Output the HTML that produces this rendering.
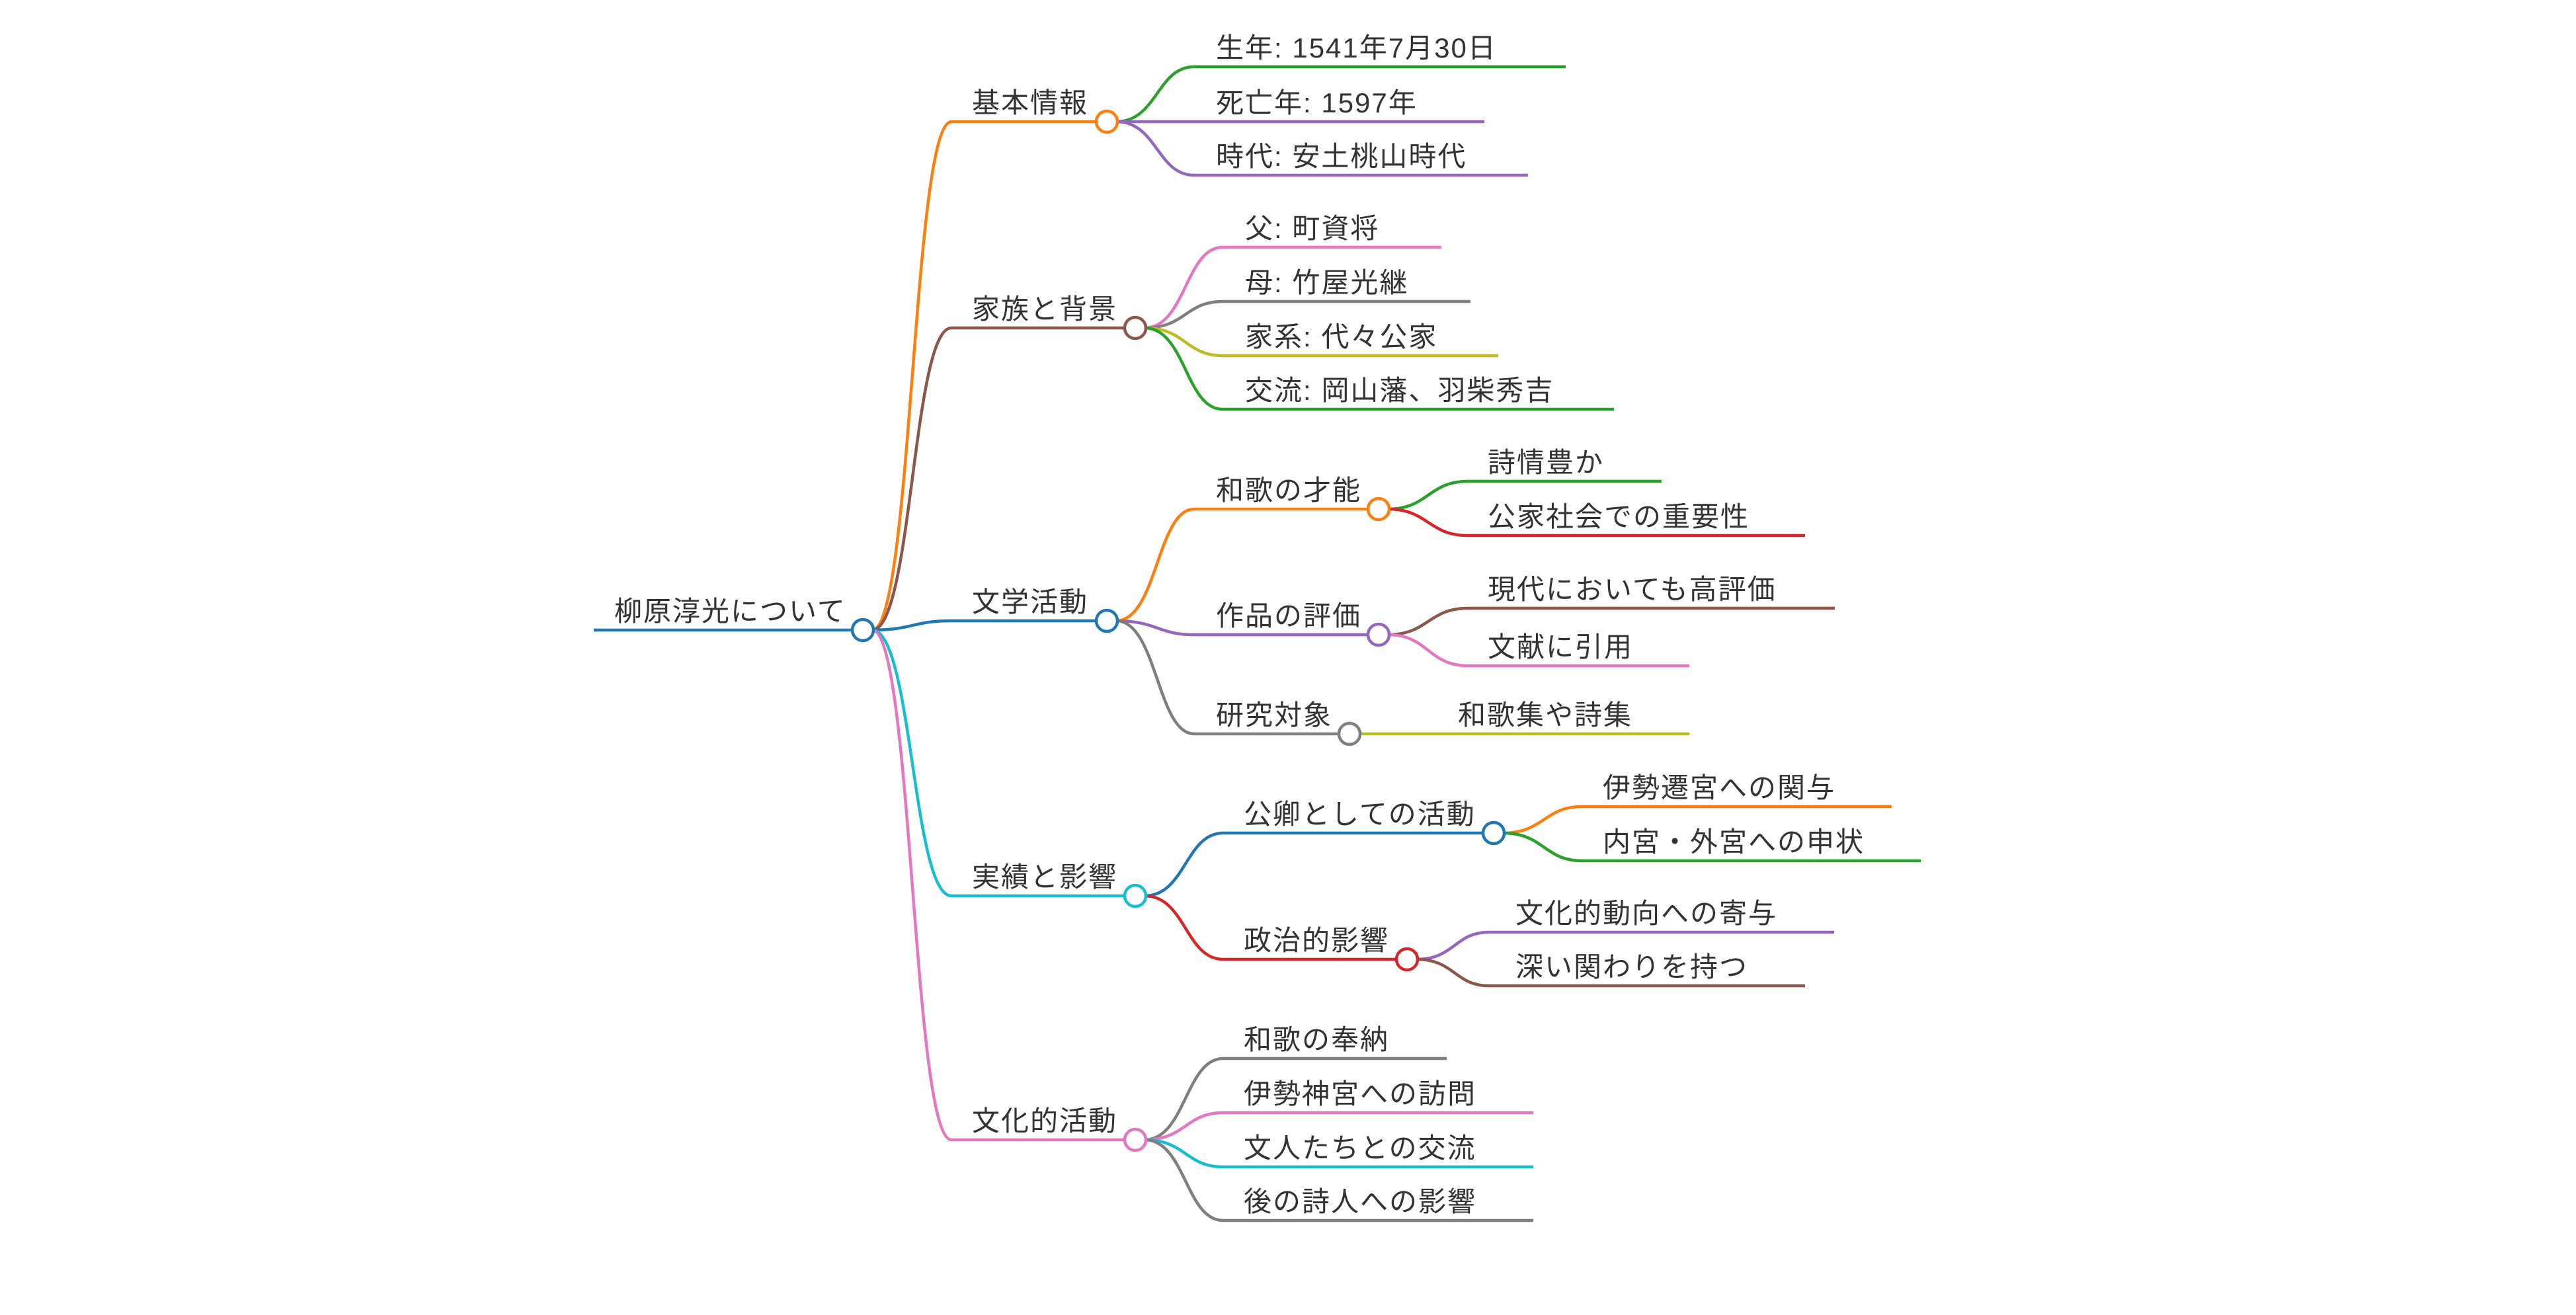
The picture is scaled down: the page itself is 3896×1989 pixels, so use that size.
<!DOCTYPE html>
<html><head><meta charset="utf-8"><style>
html,body{margin:0;padding:0;background:#fff;}
svg{display:block;}
text{font-family:"Liberation Sans","Noto Sans CJK JP",sans-serif;font-size:42px;letter-spacing:2px;fill:#333;}
path{fill:none;stroke-width:4.5;}
circle{fill:#fff;stroke-width:4.5;}
</style></head><body>
<svg width="3896" height="1989" viewBox="0 0 3896 1989" xmlns="http://www.w3.org/2000/svg">
<path d="M898 953 L1305 953" stroke="#1f77b4" stroke-width="5"/>
<text x="929" y="939">柳原淳光について</text>
<path d="M1319 953 C1380 953 1380 184 1439 184 L1674 184" stroke="#ff7f0e"/>
<path d="M1319 953 C1380 953 1380 496 1439 496 L1717 496" stroke="#8c564b"/>
<path d="M1319 953 C1380 953 1380 939 1439 939 L1674 939" stroke="#1f77b4"/>
<path d="M1319 953 C1380 953 1380 1355 1439 1355 L1717 1355" stroke="#17becf"/>
<path d="M1319 953 C1380 953 1380 1724 1439 1724 L1717 1724" stroke="#e377c2"/>
<text x="1470" y="170">基本情報</text>
<text x="1470" y="482">家族と背景</text>
<text x="1470" y="925">文学活動</text>
<text x="1470" y="1341">実績と影響</text>
<text x="1470" y="1710">文化的活動</text>
<path d="M1688 184 C1750 184 1750 101 1806 101 L2368 101" stroke="#2ca02c"/>
<path d="M1688 184 L2245 184" stroke="#9467bd"/>
<path d="M1688 184 C1750 184 1750 265 1806 265 L2311 265" stroke="#9467bd"/>
<text x="1839" y="87">生年: 1541年7月30日</text>
<text x="1839" y="170">死亡年: 1597年</text>
<text x="1839" y="251">時代: 安土桃山時代</text>
<path d="M1731 496 C1793 496 1793 374 1849 374 L2180 374" stroke="#e377c2"/>
<path d="M1731 496 C1793 496 1793 456 1849 456 L2224 456" stroke="#7f7f7f"/>
<path d="M1731 496 C1793 496 1793 538 1849 538 L2266 538" stroke="#bcbd22"/>
<path d="M1731 496 C1793 496 1793 619 1849 619 L2441 619" stroke="#2ca02c"/>
<text x="1883" y="360">父: 町資将</text>
<text x="1883" y="442">母: 竹屋光継</text>
<text x="1883" y="524">家系: 代々公家</text>
<text x="1883" y="605">交流: 岡山藩、羽柴秀吉</text>
<path d="M1688 939 C1750 939 1750 770 1806 770 L2085 770" stroke="#ff7f0e"/>
<path d="M1688 939 C1750 939 1750 960 1806 960 L2085 960" stroke="#9467bd"/>
<path d="M1688 939 C1750 939 1750 1110 1806 1110 L2041 1110" stroke="#7f7f7f"/>
<text x="1839" y="756">和歌の才能</text>
<text x="1839" y="946">作品の評価</text>
<text x="1839" y="1096">研究対象</text>
<path d="M2099 770 C2160 770 2160 728 2220 728 L2513 728" stroke="#2ca02c"/>
<path d="M2099 770 C2160 770 2160 810 2220 810 L2730 810" stroke="#d62728"/>
<path d="M2099 960 C2160 960 2160 920 2220 920 L2775 920" stroke="#8c564b"/>
<path d="M2099 960 C2160 960 2160 1007 2220 1007 L2555 1007" stroke="#e377c2"/>
<path d="M2055 1110 L2555 1110" stroke="#bcbd22"/>
<text x="2250" y="714">詩情豊か</text>
<text x="2250" y="796">公家社会での重要性</text>
<text x="2250" y="906">現代においても高評価</text>
<text x="2250" y="993">文献に引用</text>
<text x="2205" y="1096">和歌集や詩集</text>
<path d="M1731 1355 C1793 1355 1793 1260 1850 1260 L2259 1260" stroke="#1f77b4"/>
<path d="M1731 1355 C1793 1355 1793 1451 1850 1451 L2128 1451" stroke="#d62728"/>
<text x="1881" y="1246">公卿としての活動</text>
<text x="1881" y="1437">政治的影響</text>
<path d="M2273 1260 C2335 1260 2335 1220 2393 1220 L2861 1220" stroke="#ff7f0e"/>
<path d="M2273 1260 C2335 1260 2335 1302 2393 1302 L2905 1302" stroke="#2ca02c"/>
<path d="M2142 1451 C2200 1451 2200 1410 2252 1410 L2774 1410" stroke="#9467bd"/>
<path d="M2142 1451 C2200 1451 2200 1491 2252 1491 L2730 1491" stroke="#8c564b"/>
<text x="2424" y="1206">伊勢遷宮への関与</text>
<text x="2424" y="1288">内宮・外宮への申状</text>
<text x="2292" y="1396">文化的動向への寄与</text>
<text x="2292" y="1477">深い関わりを持つ</text>
<path d="M1731 1724 C1793 1724 1793 1601 1850 1601 L2188 1601" stroke="#7f7f7f"/>
<path d="M1731 1724 C1793 1724 1793 1683 1850 1683 L2319 1683" stroke="#e377c2"/>
<path d="M1731 1724 C1793 1724 1793 1765 1850 1765 L2319 1765" stroke="#17becf"/>
<path d="M1731 1724 C1793 1724 1793 1846 1850 1846 L2319 1846" stroke="#7f7f7f"/>
<text x="1881" y="1587">和歌の奉納</text>
<text x="1881" y="1669">伊勢神宮への訪問</text>
<text x="1881" y="1751">文人たちとの交流</text>
<text x="1881" y="1832">後の詩人への影響</text>
<circle cx="1305" cy="953" r="16" stroke="#1f77b4"/>
<circle cx="1674" cy="184" r="16" stroke="#ff7f0e"/>
<circle cx="1717" cy="496" r="16" stroke="#8c564b"/>
<circle cx="1674" cy="939" r="16" stroke="#1f77b4"/>
<circle cx="1717" cy="1355" r="16" stroke="#17becf"/>
<circle cx="1717" cy="1724" r="16" stroke="#e377c2"/>
<circle cx="2085" cy="770" r="16" stroke="#ff7f0e"/>
<circle cx="2085" cy="960" r="16" stroke="#9467bd"/>
<circle cx="2041" cy="1110" r="16" stroke="#7f7f7f"/>
<circle cx="2259" cy="1260" r="16" stroke="#1f77b4"/>
<circle cx="2128" cy="1451" r="16" stroke="#d62728"/>
</svg>
</body></html>
